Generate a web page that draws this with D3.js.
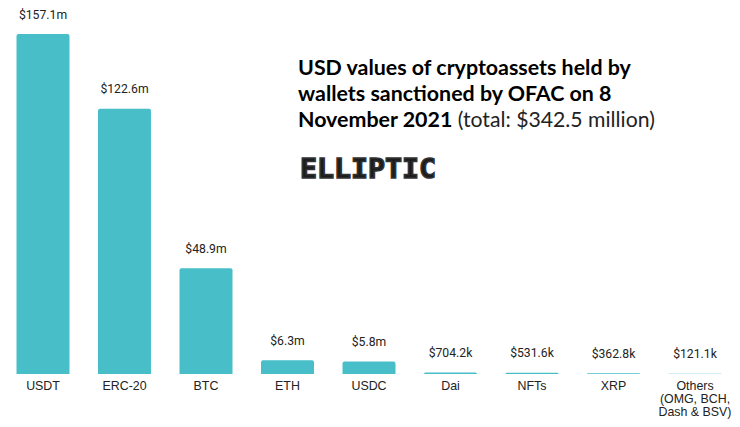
<!DOCTYPE html>
<html lang="en">
<head>
  <meta charset="UTF-8">
  <title>USD values of cryptoassets held by sanctioned wallets</title>
  <script src="https://d3js.org/d3.v7.min.js"></script>
  <style>
    html, body { margin: 0; padding: 0; background: #fff; }
    svg { display: block; }
    .value-label { font-family: Roboto, sans-serif; font-size: 12.2px; fill: #222; }
    .tick text { font-family: "Liberation Sans", Arial, sans-serif; font-size: 12.4px; fill: #222; }
    .title { font-family: Lato, sans-serif; font-size: 21.2px; fill: #222; }
    .title .strong { font-weight: 700; font-size: 21.4px; fill: #000; }
    .logo { font-family: "DejaVu Sans Mono", monospace; font-weight: 700; font-size: 26px; fill: #1c1c1c; stroke: #333; stroke-width: 1.5px; }
  </style>
</head>
<body>
<script>
  const categories = ['USDT', 'ERC-20', 'BTC', 'ETH', 'USDC', 'Dai', 'NFTs', 'XRP', 'Others'];
  const values = [157.1, 122.6, 48.9, 6.3, 5.8, 0.7042, 0.5316, 0.3628, 0.1211];
  const valueLabels = ['$157.1m', '$122.6m', '$48.9m', '$6.3m', '$5.8m', '$704.2k', '$531.6k', '$362.8k', '$121.1k'];
  const tickLabels = [['USDT'], ['ERC-20'], ['BTC'], ['ETH'], ['USDC'], ['Dai'], ['NFTs'], ['XRP'],
    ['Others', '(OMG, BCH,', 'Dash & BSV)']];
  const titleLines = [
    [['USD values of cryptoassets held by', true]],
    [['wallets sanctioned by OFAC on 8', true]],
    [['November 2021', true], [' (total: $342.5 million)', false]]
  ];

  const width = 740;
  const height = 427;
  const baseline = 374;

  const svg = d3.select('body').append('svg')
    .attr('width', width)
    .attr('height', height);

  const x = d3.scaleBand()
    .domain(categories)
    .range([2.25, 735.75])
    .paddingInner(0.35)
    .paddingOuter(0.175);

  const y = d3.scaleLinear()
    .domain([0, 157.1])
    .range([baseline, 34]);

  // bars
  svg.selectAll('.bar')
    .data(values)
    .enter().append('path')
    .attr('class', 'bar')
    .attr('fill', '#47bec8')
    .attr('d', (d, i) => {
      const left = x(categories[i]);
      const w = x.bandwidth();
      const top = y(d);
      const r = Math.min(2, baseline - top);
      return `M${left},${baseline}V${top + r}Q${left},${top} ${left + r},${top}` +
        `H${left + w - r}Q${left + w},${top} ${left + w},${top + r}V${baseline}Z`;
    });

  // value labels, a fixed distance above each bar
  svg.selectAll('.value-label')
    .data(values)
    .enter().append('text')
    .attr('class', 'value-label')
    .attr('x', (d, i) => x(categories[i]) + x.bandwidth() / 2)
    .attr('y', d => y(d) - 15.5)
    .attr('text-anchor', 'middle')
    .text((d, i) => valueLabels[i]);

  // category axis
  const axis = svg.append('g')
    .attr('transform', `translate(0,${baseline})`)
    .call(d3.axisBottom(x).tickSize(0).tickPadding(7));
  axis.select('.domain').remove();
  axis.selectAll('.tick text').each(function (d, i) {
    const label = d3.select(this).text(null);
    tickLabels[i].forEach((line, n) => {
      label.append('tspan')
        .attr('x', 0)
        .attr('dy', n === 0 ? '0.71em' : '13px')
        .text(line);
    });
  });

  // title block
  const title = svg.append('g').attr('class', 'title');
  titleLines.forEach((runs, n) => {
    const line = title.append('text').attr('x', 298).attr('y', 75 + n * 26);
    runs.forEach(([text, strong]) => {
      line.append('tspan')
        .attr('class', strong ? 'strong' : null)
        .attr('xml:space', 'preserve')
        .text(text);
    });
  });

  svg.append('text')
    .attr('class', 'logo')
    .attr('x', 300)
    .attr('y', 177.5)
    .attr('textLength', 136)
    .attr('lengthAdjust', 'spacingAndGlyphs')
    .text('ELLIPTIC');
</script>
</body>
</html>
